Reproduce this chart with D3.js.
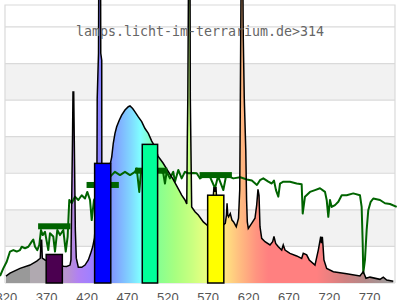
<!DOCTYPE html>
<html><head><meta charset="utf-8">
<script src="https://cdn.jsdelivr.net/npm/d3@7"></script>
<style>html,body{margin:0;padding:0;background:#fff;overflow:hidden}</style>
</head><body>
<svg id="c" width="400" height="300"></svg>
<script>
// ---------- data ----------
const title = "lamps.licht-im-terrarium.de>314";
const tickWavelengths = [320, 370, 420, 470, 520, 570, 620, 670, 720, 770];

// lamp spectrum (wavelength nm, relative intensity)
const spectrumNm = [320.2,325.2,337.6,350.0,358.3,362.3,362.7,363.6,364.4,365.2,368.5,380.9,391.2,395.4,399.5,
  400.7,401.6,402.6,403.2,404.1,404.8,406.1,407.3,409.8,414.0,418.1,422.2,425.1,427.6,429.8,
  432.7,433.2,434.8,435.2,437.3,437.6,438.8,438.9,439.7,441.6,444.1,446.6,449.0,449.9,451.2,453.1,455.2,457.3,
  460.5,463.5,467.6,471.7,473.8,477.1,480.0,484.1,488.3,492.2,496.5,500.7,504.8,508.5,514.7,520.9,527.1,535.7,
  537.8,541.9,544.1,544.8,545.4,546.4,548.1,548.5,549.3,550.2,554.3,558.4,564.6,569.5,574.1,576.6,577.8,579.0,
  580.3,581.5,584.0,587.7,591.8,593.3,594.0,594.9,595.9,598.0,600.1,602.1,605.4,608.2,609.7,610.3,610.9,611.6,
  613.4,614.1,615.3,617.2,618.2,619.1,620.3,624.5,628.6,630.7,632.3,633.6,634.8,636.9,641.0,647.2,650.5,652.1,
  654.2,657.5,661.7,663.6,665.8,671.9,680.2,686.4,688.4,692.6,695.8,702.9,707.0,710.0,710.9,712.0,712.8,714.0,
  717.4,725.6,742.2,758.6,762.7,766.1,771.0,783.4,787.5,791.7,799.9];
const spectrumVal = [0.19,0.27,0.40,0.49,0.60,0.67,0.68,1.17,1.17,0.68,0.63,0.57,0.46,0.45,0.49,
  0.63,2.27,3.91,5.22,5.22,3.91,1.45,0.68,0.43,0.43,0.49,0.63,0.81,0.99,1.23,
  2.27,5.05,6.28,8.83,8.83,6.28,6.09,3.28,2.00,1.58,2.27,2.81,3.22,3.31,3.45,3.82,4.09,4.27,
  4.45,4.59,4.73,4.82,4.84,4.77,4.68,4.54,4.41,4.23,4.09,3.88,3.72,3.47,3.28,3.06,2.84,2.49,
  2.40,2.27,2.16,3.96,5.05,8.83,8.83,5.05,3.63,2.08,1.95,1.86,1.67,1.58,1.56,2.27,2.62,2.49,
  2.62,2.13,1.58,1.56,1.63,1.86,2.18,1.86,1.81,1.90,1.72,1.67,1.54,1.77,2.54,4.45,6.64,8.83,
  8.83,6.69,5.08,3.63,2.27,1.67,1.49,1.63,1.77,2.13,2.56,2.40,1.54,1.22,1.13,1.04,1.13,1.27,
  1.08,0.99,0.90,1.04,0.90,0.81,0.74,0.67,0.81,0.77,0.63,0.49,0.90,1.27,1.09,1.26,1.04,0.63,
  0.40,0.31,0.25,0.19,0.31,0.13,0.16,0.10,0.16,0.08,0.05];

// reference (daylight) curve
const daylightNm = [312.8,316.9,321.1,325.2,329.3,333.5,337.6,339.7,343.8,347.9,352.1,354.0,356.2,359.0,361.5,363.6,
  365.7,368.5,372.6,374.7,378.8,380.9,383.8,387.1,391.2,394.2,396.6,398.6,401.6,405.7,409.8,414.0,418.1,420.9,
  424.3,426.4,429.2,436.6,442.8,451.1,455.2,461.4,467.6,473.8,480.0,482.1,485.3,487.4,498.6,508.8,515.0,517.1,
  519.2,523.3,527.4,529.5,533.6,537.8,541.9,546.0,552.2,556.4,560.5,566.7,572.9,579.1,582.8,589.4,592.7,597.6,
  601.7,610.3,618.6,624.7,631.0,634.8,638.9,645.1,649.3,652.1,654.6,657.5,659.6,663.7,671.9,680.2,686.4,687.7,
  690.5,696.7,702.9,709.1,715.3,717.4,719.4,721.5,723.6,727.7,731.8,736.0,742.2,750.3,758.6,760.7,762.0,762.7,
  764.8,766.9,768.9,771.9,775.1,783.4,789.6,795.8,804.1];
const daylightVal = [0.19,0.40,0.58,0.86,0.90,0.86,0.90,0.99,0.95,0.99,1.13,1.19,0.99,0.90,1.04,1.45,
  1.31,1.40,0.90,1.36,1.27,0.86,1.45,1.31,1.45,0.86,1.27,2.27,2.18,2.36,2.27,2.40,2.31,2.49,
  2.27,1.72,2.27,2.54,2.76,2.95,3.04,2.95,3.04,2.95,3.04,3.13,2.49,3.03,3.09,3.09,3.00,2.72,
  3.04,2.86,3.04,2.77,3.09,2.86,3.04,3.00,3.01,3.00,2.86,2.95,2.90,2.59,2.92,2.54,2.92,2.90,
  2.86,2.89,2.83,2.80,2.68,2.81,2.86,2.77,2.72,2.80,2.54,2.36,2.72,2.77,2.77,2.72,2.70,1.90,
  2.36,2.49,2.54,2.59,2.49,2.27,1.81,2.27,2.08,2.13,2.22,2.40,2.40,2.45,2.40,2.08,1.08,0.27,
  0.63,1.45,1.99,2.22,2.31,2.27,2.18,2.16,2.08];

// lamp band sums (coloured bars)
const bandStart = [370, 430, 489, 570];
const bandEnd   = [390, 450, 508, 590];
const bandVal   = [0.78, 3.27, 3.79, 2.40];

// daylight band sums (dark green bars)
const targetStart = [360, 420, 480, 560];
const targetEnd   = [400, 460, 520, 600];
const targetVal   = [1.55, 2.68, 3.07, 2.95];

// ---------- styles ----------
const bandColors = ["#4b0050", "#0000ff", "#00ff99", "#ffff00"];
const green = "#006400";
const gradStops = [[319,"#999999"],[349.5,"#999999"],[350.5,"#b0a9b0"],[370,"#b0a9b0"],[385,"#b89cc8"],
  [398,"#b890d4"],[410,"#b080f4"],[425,"#a080ff"],[440,"#8080ff"],[455,"#80a0ff"],[475,"#80d8ff"],
  [487,"#80ffff"],[500,"#80ffc0"],[510,"#88ff90"],[530,"#a8ff80"],[550,"#c8ff80"],[565,"#e4ff80"],
  [580,"#ffff80"],[595,"#ffdc80"],[610,"#ffbc80"],[630,"#ff9480"],[645,"#ff8080"],[705,"#ff8080"],
  [720,"#ec8080"],[740,"#d08080"],[765,"#b48888"],[790,"#a29898"],[802,"#a0a0a0"]];

// ---------- chart ----------
const svg = d3.select("#c");
const x = d3.scaleLinear().domain([319, 802]).range([5, 395]);
const y = d3.scaleLinear().domain([0, 7.6]).range([283, 5]);

const defs = svg.append("defs");
const lg = defs.append("linearGradient").attr("id", "wl")
  .attr("gradientUnits", "userSpaceOnUse")
  .attr("x1", x(319)).attr("x2", x(802)).attr("y1", 0).attr("y2", 0);
lg.selectAll("stop").data(gradStops).join("stop")
  .attr("offset", d => (d[0] - 319) / (802 - 319))
  .attr("stop-color", d => d[1]);

// background bands
svg.append("g").selectAll("rect").data([1, 3, 5]).join("rect")
  .attr("x", x(319)).attr("width", x(802) - x(319))
  .attr("y", d => y(d + 1)).attr("height", d => y(d) - y(d + 1))
  .attr("fill", "#f2f2f2");

// grid lines
svg.append("g").selectAll("line").data(d3.range(0, 8)).join("line")
  .attr("x1", x(319)).attr("x2", x(802))
  .attr("y1", d => y(d)).attr("y2", d => y(d))
  .attr("stroke", "#dadada").attr("stroke-width", 1.2);
// frame
svg.append("path")
  .attr("d", `M${x(319)},${y(0)}V${y(7.6)}H${x(802)}V${y(0)}`)
  .attr("fill", "none").attr("stroke", "#dadada").attr("stroke-width", 1.2);

const spec = spectrumNm.map((n, i) => ({nm: n, v: spectrumVal[i]}));
const day = daylightNm.map((n, i) => ({nm: n, v: daylightVal[i]}));

// spectrum fill
svg.append("path").datum(spec)
  .attr("d", d3.area().x(d => x(d.nm)).y0(y(0)).y1(d => y(d.v)))
  .attr("fill", "url(#wl)");

// daylight curve
svg.append("path").datum(day)
  .attr("d", d3.line().x(d => x(d.nm)).y(d => y(d.v)))
  .attr("fill", "none").attr("stroke", green).attr("stroke-width", 2)
  .attr("stroke-linejoin", "round");

// spectrum outline
svg.append("path").datum(spec)
  .attr("d", d3.line().x(d => x(d.nm)).y(d => y(d.v)))
  .attr("fill", "none").attr("stroke", "#000").attr("stroke-width", 1.5);

// daylight band bars
svg.append("g").selectAll("rect").data(targetVal).join("rect")
  .attr("x", (d, i) => x(targetStart[i]))
  .attr("width", (d, i) => x(targetEnd[i]) - x(targetStart[i]))
  .attr("y", d => y(d) - 3).attr("height", 6)
  .attr("fill", green);

// lamp band bars
svg.append("g").selectAll("rect").data(bandVal).join("rect")
  .attr("x", (d, i) => x(bandStart[i]))
  .attr("width", (d, i) => x(bandEnd[i]) - x(bandStart[i]))
  .attr("y", d => y(d)).attr("height", d => y(0) - y(d))
  .attr("fill", (d, i) => bandColors[i])
  .attr("stroke", "#000").attr("stroke-width", 1.5);

// x axis
const ax = svg.append("g").attr("transform", `translate(0,${y(0)})`)
  .call(d3.axisBottom(x).tickValues(tickWavelengths).tickSize(0).tickPadding(10).tickFormat(d3.format("d")));
ax.select(".domain").remove();
ax.selectAll("text").attr("fill", "#555").attr("font-size", "13px")
  .attr("font-family", "Liberation Sans, Arial, sans-serif");

// title
svg.append("text").attr("x", 200).attr("y", 36).attr("text-anchor", "middle")
  .attr("font-family", "DejaVu Sans Mono, monospace").attr("font-size", "13.3px")
  .attr("fill", "#666").text(title);
</script>
</body></html>
